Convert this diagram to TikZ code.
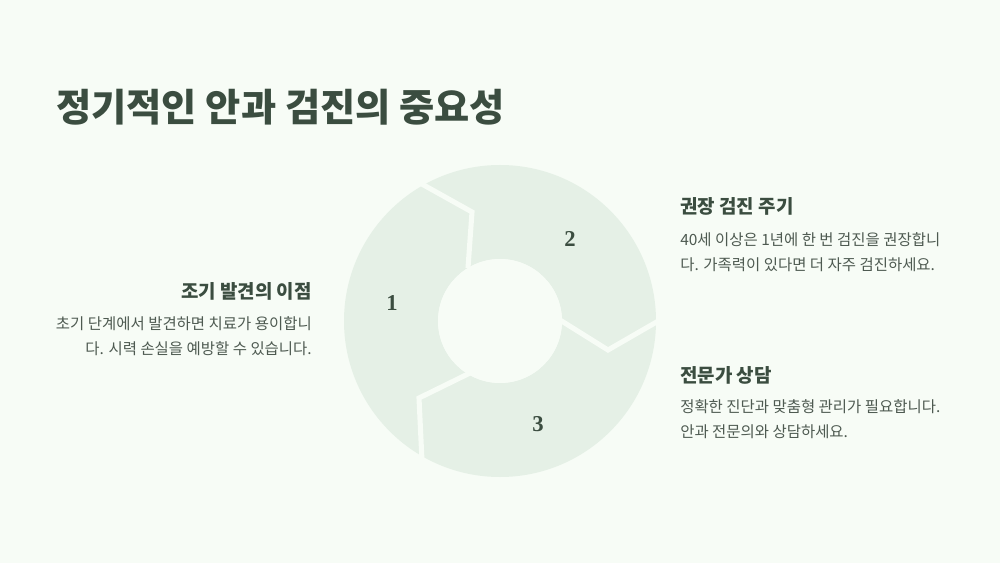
\documentclass[tikz,border=0pt]{standalone}
\usepackage{fontspec}
\setmainfont{Noto Sans CJK KR}
\newfontfamily\numfont{Liberation Serif}
\definecolor{bg}{HTML}{F7FCF6}
\definecolor{ring}{HTML}{E5F0E6}
\definecolor{ink}{HTML}{3B4D40}
\definecolor{body}{HTML}{4E5A51}
\begin{document}
\begin{tikzpicture}[x=0.75pt,y=-0.75pt,
  title/.style={anchor=base west,font=\fontsize{28.7}{32}\selectfont\bfseries,text=ink,inner sep=0},
  head/.style={font=\fontsize{14.2}{17}\selectfont\bfseries,text=ink,inner sep=0},
  txt/.style={font=\fontsize{11.6}{19}\selectfont,text=body,inner sep=0,align=left},
  num/.style={font=\fontsize{17}{20}\selectfont\numfont\bfseries,text=ink},
  sep/.style={draw=bg,line width=3.8pt,line join=miter}]
\fill[bg] (0,0) rectangle (1000,563);
\useasboundingbox (0,0) rectangle (1000,563);
\coordinate (c) at (500,321);
\fill[ring,even odd rule] (c) circle[radius=117pt] (c) circle[radius=46.5pt];
\draw[sep] (420,183) -- (472,212) -- (468,268);
\draw[sep] (660,320) -- (608,350) -- (560,320);
\draw[sep] (422,461) -- (419,398) -- (470,373);
\fill[bg] (c) circle[radius=46.5pt];
\node[num] (n1) at (392,303) {1};
\node[num] (n2) at (570,239) {2};
\node[num] (n3) at (538,424) {3};
\node[title] (t) at (56,122) {정기적인 안과 검진의 중요성};
\node[head,anchor=base east] (h1) at (312,298) {조기 발견의 이점};
\node[txt,anchor=north east,align=right] (b1) at (312,316) {초기 단계에서 발견하면 치료가 용이합니\\다. 시력 손실을 예방할 수 있습니다.};
\node[head,anchor=base west] (h2) at (680,214) {권장 검진 주기};
\node[txt,anchor=north west] (b2) at (680,232) {40세 이상은 1년에 한 번 검진을 권장합니\\다. 가족력이 있다면 더 자주 검진하세요.};
\node[head,anchor=base west] (h3) at (680,382) {전문가 상담};
\node[txt,anchor=north west] (b3) at (680,399) {정확한 진단과 맞춤형 관리가 필요합니다.\\안과 전문의와 상담하세요.};
\end{tikzpicture}
\end{document}
